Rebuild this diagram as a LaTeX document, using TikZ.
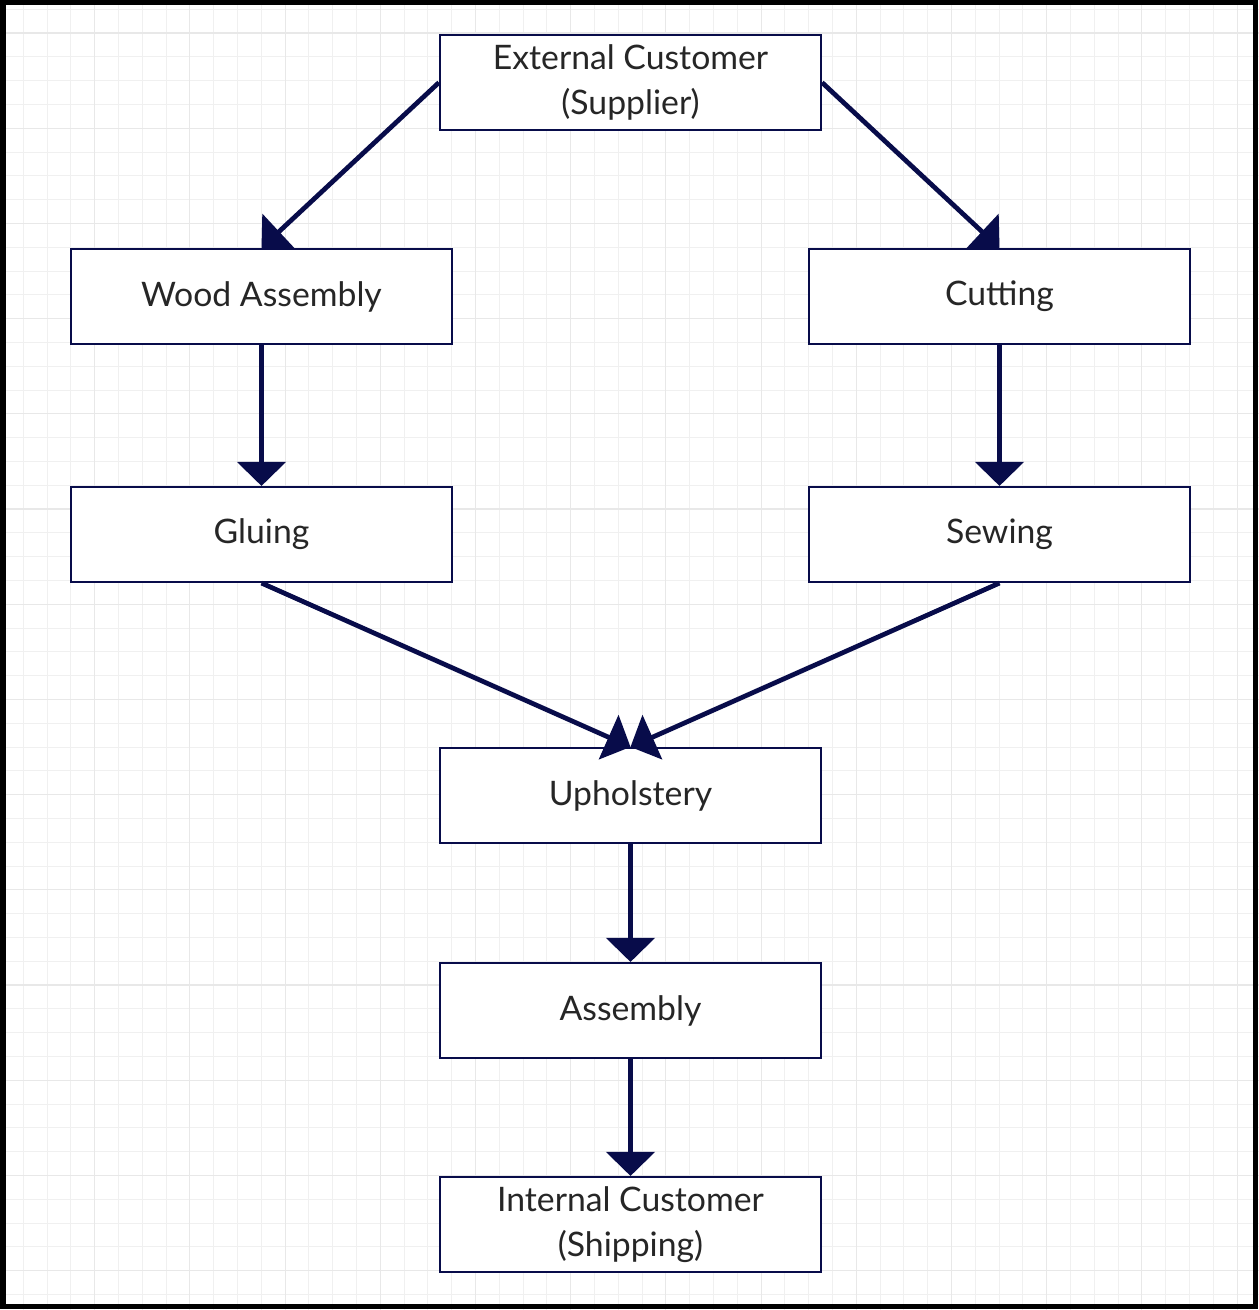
\documentclass[tikz,border=0pt]{standalone}
\usepackage{fontspec}
\setmainfont{Lato}
\usetikzlibrary{arrows.meta}
\definecolor{navy}{RGB}{8,12,74}
\definecolor{gridminor}{RGB}{240,240,240}
\definecolor{gridmajor}{RGB}{232,232,232}
\tikzset{node distance=4.28cm, auto,
  stage/.style={draw=navy, line width=1.2pt, fill=white, text=black!85,
    minimum width=7.62cm, minimum height=1.9cm, inner sep=0pt, align=center,
    font=\fontsize{19.2}{25.6}\selectfont},
  flow/.style={navy, line width=2.7pt, -{Triangle[length=0.48cm,width=0.96cm]}}}

\begin{document}
\begin{tikzpicture}
                \useasboundingbox (0,0) rectangle (25.18,-26.2);
                % background grid
                \begin{scope}
                  \clip (0,0) rectangle (25.18,-26.2);
                  \draw[gridminor, line width=0.5pt, step=0.476cm, shift={(-0.01,-0.184)}] (-1,1) grid (26,-27);
                  \draw[gridmajor, line width=0.6pt, step=1.904cm, shift={(-0.01,-0.66)}] (-2,2) grid (27,-28);
                \end{scope}
                \draw[line width=0.1cm] (0.06,-0.05) rectangle (25.11,-26.12);

                \node[stage] (ext) at (12.61,-1.65) {External Customer\\(Supplier)};
                \node[stage] (wood) [below of=ext, xshift=-7.38cm] {Wood Assembly};
                \node[stage] (cut)  [below of=ext, xshift=7.38cm]  {Cutting};
                \node[stage] (glue) [node distance=4.76cm, below of=wood] {Gluing};
                \node[stage] (sew)  [node distance=4.76cm, below of=cut]  {Sewing};
                \node[stage] (uph)  [node distance=5.22cm, below of=glue, xshift=7.38cm] {Upholstery};
                \node[stage] (asm)  [node distance=4.3cm, below of=uph] {Assembly};
                \node[stage] (int)  [below of=asm] {Internal Customer\\(Shipping)};

                \draw[flow] (ext.west) -- (wood.north);
                \draw[flow] (ext.east) -- (cut.north);
                \draw[flow] (wood.south) -- (glue.north);
                \draw[flow] (cut.south) -- (sew.north);
                \draw[flow] (glue.south) -- (uph.north);
                \draw[flow] (sew.south) -- (uph.north);
                \draw[flow] (uph.south) -- (asm.north);
                \draw[flow] (asm.south) -- (int.north);
              \end{tikzpicture}
\end{document}
